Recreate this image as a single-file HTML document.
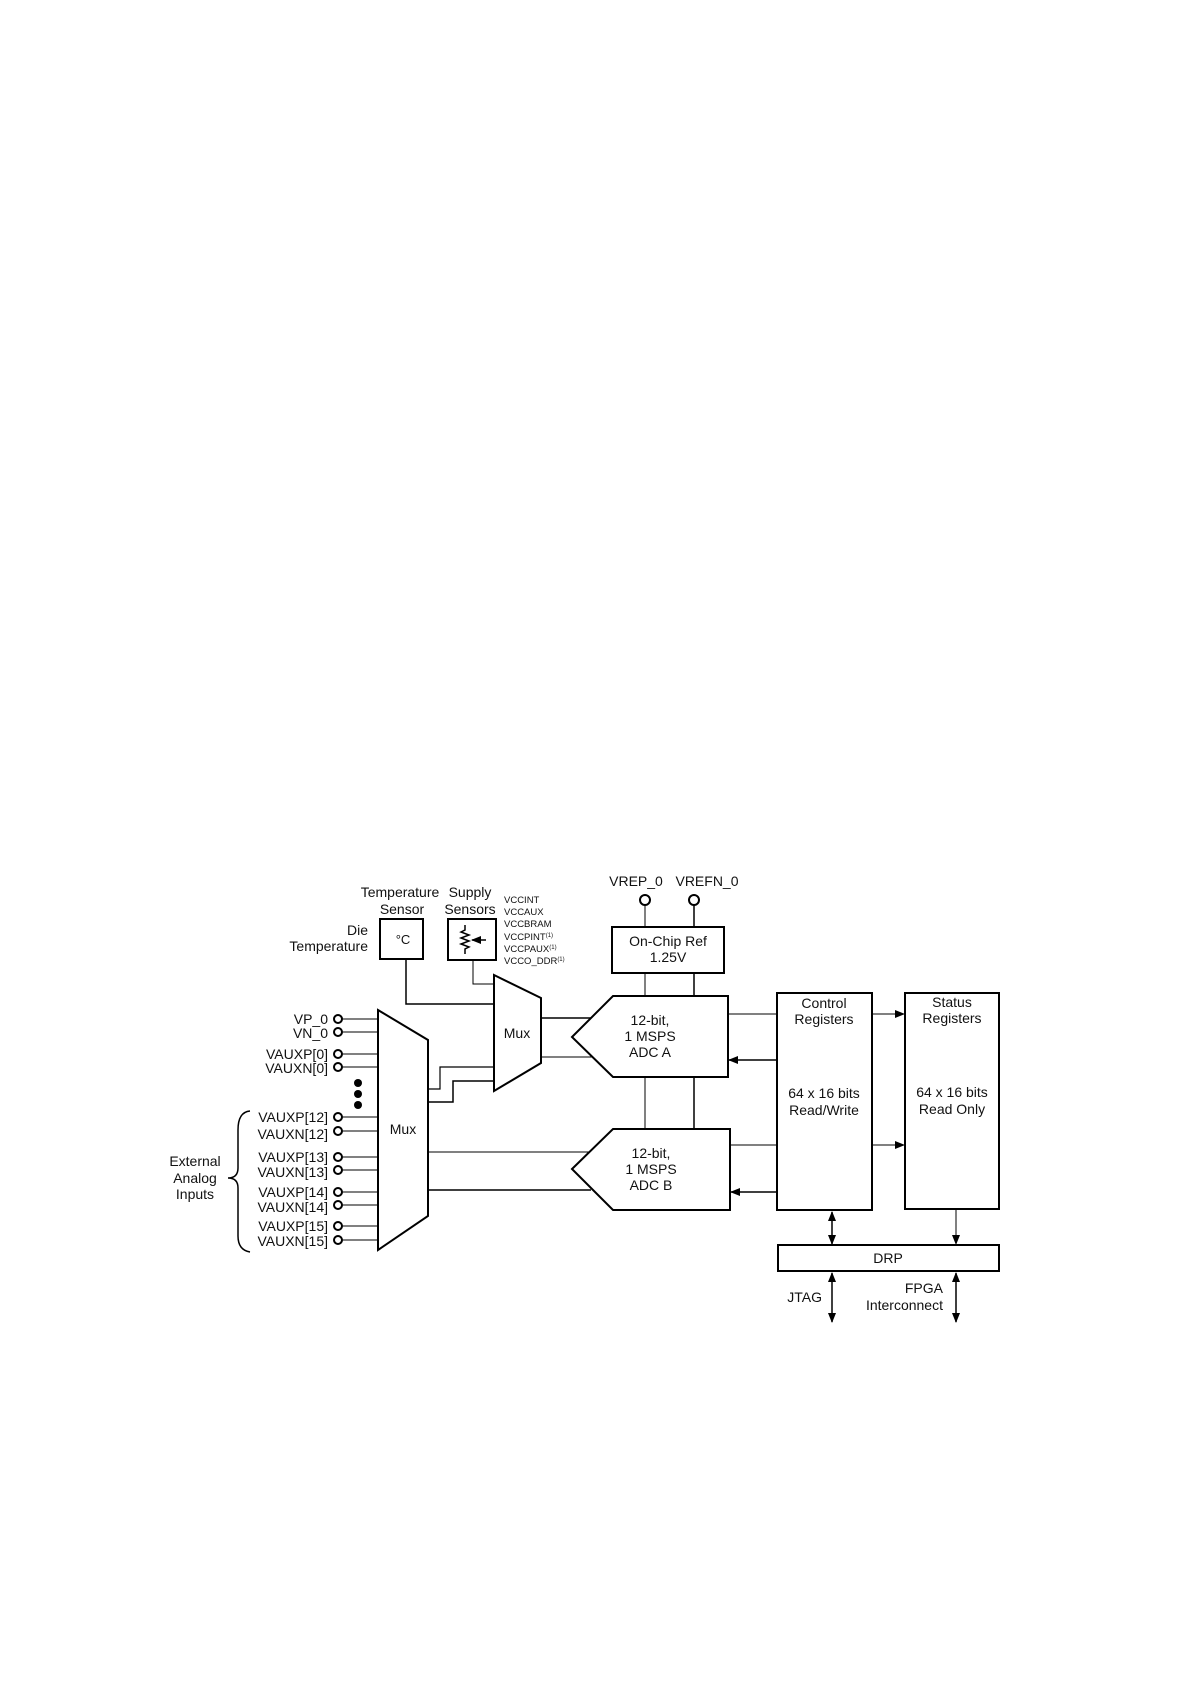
<!DOCTYPE html>
<html><head><meta charset="utf-8"><style>
html,body{margin:0;padding:0;background:#fff;}
svg{display:block;}
text{font-family:"Liberation Sans",sans-serif;fill:#111;}
</style></head><body>
<svg width="1192" height="1685" viewBox="0 0 1192 1685" xmlns="http://www.w3.org/2000/svg">
<defs>
<marker id="ah" markerWidth="10" markerHeight="8" refX="9" refY="4" orient="auto" markerUnits="userSpaceOnUse"><path d="M0,0 L10,4 L0,8 z" fill="#000"/></marker>
<marker id="as" markerWidth="10" markerHeight="8" refX="1" refY="4" orient="auto" markerUnits="userSpaceOnUse"><path d="M10,0 L0,4 L10,8 z" fill="#000"/></marker>
</defs>
<g font-size="14" text-anchor="middle">
<!-- Temperature sensor -->
<text x="400" y="897">Temperature</text>
<text x="402" y="914">Sensor</text>
<text x="368" y="935" text-anchor="end">Die</text>
<text x="368" y="951" text-anchor="end">Temperature</text>
<rect x="380" y="919" width="43" height="40" fill="none" stroke="#000" stroke-width="2"/>
<text x="403" y="944" font-size="13">°C</text>
<!-- Supply -->
<text x="470" y="897">Supply</text>
<text x="470" y="914">Sensors</text>
<rect x="448" y="919" width="48" height="41" fill="none" stroke="#000" stroke-width="2"/>
<path d="M465,925 V930 L461,932 L469,935 L461,938 L469,941 L461,944 L469,947 L465,949 V954" fill="none" stroke="#000" stroke-width="1.5"/>
<line x1="486" y1="940" x2="472" y2="940" stroke="#000" stroke-width="1.5" marker-end="url(#ah)"/>
<g font-size="9.5" text-anchor="start">
<text x="504" y="903">VCCINT</text>
<text x="504" y="915">VCCAUX</text>
<text x="504" y="927">VCCBRAM</text>
<text x="504" y="940">VCCPINT<tspan font-size="6" dy="-3">(1)</tspan></text>
<text x="504" y="952">VCCPAUX<tspan font-size="6" dy="-3">(1)</tspan></text>
<text x="504" y="964">VCCO_DDR<tspan font-size="6" dy="-3">(1)</tspan></text>
</g>
<!-- small mux -->
<polygon points="494,975 541,998 541,1063 494,1091" fill="none" stroke="#000" stroke-width="2"/>
<text x="517" y="1038">Mux</text>
<polyline points="406,959 406,1004 494,1004" fill="none" stroke="#000" stroke-width="1.5"/>
<polyline points="473,960 473,984 494,984" fill="none" stroke="#000" stroke-width="1"/>
<!-- big mux -->
<polygon points="378,1010 428,1040 428,1216 378,1250" fill="none" stroke="#000" stroke-width="2"/>
<text x="403" y="1134">Mux</text>
<polyline points="428,1089 440,1089 440,1067 494,1067" fill="none" stroke="#000" stroke-width="1.2"/>
<polyline points="428,1102 453,1102 453,1081 494,1081" fill="none" stroke="#000" stroke-width="1.5"/>
<!-- inputs -->
<g text-anchor="end">
<text x="328" y="1024">VP_0</text>
<text x="328" y="1038">VN_0</text>
<text x="328" y="1059">VAUXP[0]</text>
<text x="328" y="1073">VAUXN[0]</text>
<text x="328" y="1122">VAUXP[12]</text>
<text x="328" y="1139">VAUXN[12]</text>
<text x="328" y="1162">VAUXP[13]</text>
<text x="328" y="1177">VAUXN[13]</text>
<text x="328" y="1197">VAUXP[14]</text>
<text x="328" y="1212">VAUXN[14]</text>
<text x="328" y="1231">VAUXP[15]</text>
<text x="328" y="1246">VAUXN[15]</text>
</g>
<g fill="#fff" stroke="#000" stroke-width="2">
<circle cx="338" cy="1019" r="4"/><circle cx="338" cy="1032" r="4"/>
<circle cx="338" cy="1054" r="4"/><circle cx="338" cy="1067" r="4"/>
<circle cx="338" cy="1117" r="4"/><circle cx="338" cy="1131" r="4"/>
<circle cx="338" cy="1157" r="4"/><circle cx="338" cy="1170" r="4"/>
<circle cx="338" cy="1192" r="4"/><circle cx="338" cy="1205" r="4"/>
<circle cx="338" cy="1226" r="4"/><circle cx="338" cy="1240" r="4"/>
</g>
<g stroke="#000" stroke-width="1">
<line x1="342" y1="1019" x2="378" y2="1019"/><line x1="342" y1="1032" x2="378" y2="1032"/>
<line x1="342" y1="1054" x2="378" y2="1054"/><line x1="342" y1="1067" x2="378" y2="1067"/>
<line x1="342" y1="1117" x2="378" y2="1117"/><line x1="342" y1="1131" x2="378" y2="1131"/>
<line x1="342" y1="1157" x2="378" y2="1157"/><line x1="342" y1="1170" x2="378" y2="1170"/>
<line x1="342" y1="1192" x2="378" y2="1192"/><line x1="342" y1="1205" x2="378" y2="1205"/>
<line x1="342" y1="1226" x2="378" y2="1226"/><line x1="342" y1="1240" x2="378" y2="1240"/>
</g>
<circle cx="358" cy="1083" r="4"/><circle cx="358" cy="1094" r="4"/><circle cx="358" cy="1105" r="4"/>
<path d="M250,1111 Q238,1112 238,1130 V1168 Q238,1178 228,1178 Q238,1178 238,1188 V1236 Q238,1250 250,1252" fill="none" stroke="#000" stroke-width="1.5"/>
<text x="195" y="1166">External</text>
<text x="195" y="1183">Analog</text>
<text x="195" y="1199">Inputs</text>
<!-- VREF -->
<text x="636" y="886">VREP_0</text>
<text x="707" y="886">VREFN_0</text>
<circle cx="645" cy="900" r="5" fill="#fff" stroke="#000" stroke-width="2"/>
<circle cx="694" cy="900" r="5" fill="#fff" stroke="#000" stroke-width="2"/>
<line x1="645" y1="905" x2="645" y2="927" stroke="#000" stroke-width="1"/>
<line x1="694" y1="905" x2="694" y2="927" stroke="#000" stroke-width="1.5"/>
<rect x="612" y="927" width="112" height="46" fill="none" stroke="#000" stroke-width="2"/>
<text x="668" y="946">On-Chip Ref</text>
<text x="668" y="962">1.25V</text>
<line x1="645" y1="973" x2="645" y2="1129" stroke="#000" stroke-width="1"/>
<line x1="694" y1="973" x2="694" y2="1129" stroke="#000" stroke-width="1.5"/>
<!-- ADC A -->
<polygon points="572,1037 613,996 728,996 728,1077 613,1077" fill="#fff" stroke="#000" stroke-width="2"/>
<text x="650" y="1025">12-bit,</text>
<text x="650" y="1041">1 MSPS</text>
<text x="650" y="1057">ADC A</text>
<line x1="541" y1="1018" x2="591" y2="1018" stroke="#000" stroke-width="1.5"/>
<line x1="541" y1="1057" x2="592" y2="1057" stroke="#000" stroke-width="1"/>
<!-- ADC B -->
<polygon points="572,1169 613,1129 730,1129 730,1210 613,1210" fill="#fff" stroke="#000" stroke-width="2"/>
<text x="651" y="1158">12-bit,</text>
<text x="651" y="1174">1 MSPS</text>
<text x="651" y="1190">ADC B</text>
<line x1="428" y1="1152" x2="590" y2="1152" stroke="#000" stroke-width="1"/>
<line x1="428" y1="1190" x2="591" y2="1190" stroke="#000" stroke-width="1.5"/>
<!-- Control -->
<rect x="777" y="993" width="95" height="217" fill="none" stroke="#000" stroke-width="2"/>
<text x="824" y="1008">Control</text>
<text x="824" y="1024">Registers</text>
<text x="824" y="1098">64 x 16 bits</text>
<text x="824" y="1115">Read/Write</text>
<!-- Status -->
<rect x="905" y="993" width="94" height="216" fill="none" stroke="#000" stroke-width="2"/>
<text x="952" y="1007">Status</text>
<text x="952" y="1023">Registers</text>
<text x="952" y="1097">64 x 16 bits</text>
<text x="952" y="1114">Read Only</text>
<g stroke="#000" stroke-width="1">
<line x1="728" y1="1014" x2="777" y2="1014"/>
<line x1="777" y1="1060" x2="729" y2="1060" stroke-width="1.5" marker-end="url(#ah)"/>
<line x1="730" y1="1145" x2="777" y2="1145"/>
<line x1="777" y1="1192" x2="731" y2="1192" stroke-width="1.5" marker-end="url(#ah)"/>
<line x1="872" y1="1014" x2="904" y2="1014" marker-end="url(#ah)"/>
<line x1="872" y1="1145" x2="904" y2="1145" marker-end="url(#ah)"/>
<line x1="832" y1="1212" x2="832" y2="1244" stroke-width="1.5" marker-start="url(#as)" marker-end="url(#ah)"/>
<line x1="956" y1="1209" x2="956" y2="1244" marker-end="url(#ah)"/>
<line x1="832" y1="1273" x2="832" y2="1322" stroke-width="1.5" marker-start="url(#as)" marker-end="url(#ah)"/>
<line x1="956" y1="1273" x2="956" y2="1322" stroke-width="1.5" marker-start="url(#as)" marker-end="url(#ah)"/>
</g>
<rect x="778" y="1245" width="221" height="26" fill="none" stroke="#000" stroke-width="2"/>
<text x="888" y="1263">DRP</text>
<text x="822" y="1302" text-anchor="end">JTAG</text>
<text x="943" y="1293" text-anchor="end">FPGA</text>
<text x="943" y="1310" text-anchor="end">Interconnect</text>
</g>
</svg>
</body></html>
